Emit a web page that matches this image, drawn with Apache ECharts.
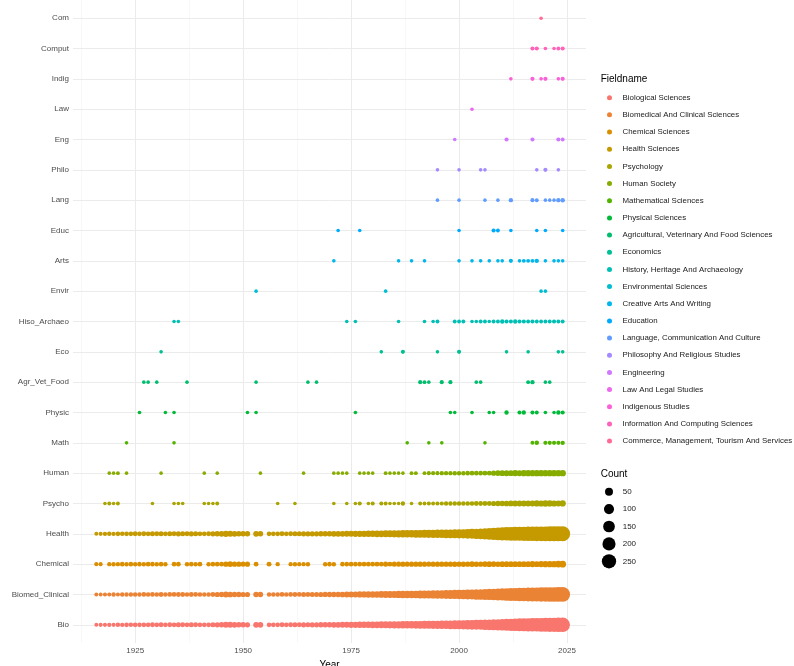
<!DOCTYPE html>
<html>
<head>
<meta charset="UTF-8">
<title>Field by year</title>
<script src="https://cdn.jsdelivr.net/npm/echarts@6.0.0/dist/echarts.min.js"></script>
<style>
  html, body { margin: 0; padding: 0; background: #fff; }
  #main { width: 794px; height: 666px; }
</style>
</head>
<body>
<div id="main"></div>
<script>
// y axis labels, bottom to top (same order as the legend)
const fields = ['Bio', 'Biomed_Clinical', 'Chemical', 'Health', 'Psycho', 'Human', 'Math', 'Physic',
  'Agr_Vet_Food', 'Eco', 'Hiso_Archaeo', 'Envir', 'Arts', 'Educ', 'Lang', 'Philo', 'Eng', 'Law',
  'Indig', 'Comput', 'Com'];
const fieldNames = ['Biological Sciences', 'Biomedical And Clinical Sciences', 'Chemical Sciences',
  'Health Sciences', 'Psychology', 'Human Society', 'Mathematical Sciences', 'Physical Sciences',
  'Agricultural, Veterinary And Food Sciences', 'Economics', 'History, Heritage And Archaeology',
  'Environmental Sciences', 'Creative Arts And Writing', 'Education',
  'Language, Communication And Culture', 'Philosophy And Religious Studies', 'Engineering',
  'Law And Legal Studies', 'Indigenous Studies', 'Information And Computing Sciences',
  'Commerce, Management, Tourism And Services'];
const xTicks = [1925, 1950, 1975, 2000, 2025];
const xMinor = [1912.5, 1937.5, 1962.5, 1987.5, 2012.5];
const countBreaks = [50, 100, 150, 200, 250];

// [year, count]
const bio = [[1916,2],[1917,3],[1918,3],[1919,4],[1920,3],[1921,5],[1922,4],[1923,6],[1924,5],[1925,7],
  [1926,6],[1927,7],[1928,6],[1929,8],[1930,7],[1931,8],[1932,6],[1933,8],[1934,7],[1935,9],[1936,8],
  [1937,7],[1938,9],[1939,8],[1940,6],[1941,6],[1942,7],[1943,9],[1944,11],[1945,14],[1946,20],[1947,17],
  [1948,15],[1949,13],[1950,12],[1951,11],[1953,16],[1954,15],
  [1956,6],[1957,7],[1958,6],[1959,8],[1960,7],[1961,8],[1962,9],[1963,8],[1964,10],[1965,9],[1966,11],
  [1967,10],[1968,12],[1969,13],[1970,14],[1971,15],[1972,16],[1973,18],[1974,19],[1975,21],
  [1976,22],[1977,24],[1978,25],[1979,27],[1980,28],[1981,30],[1982,32],[1983,33],[1984,35],[1985,36],
  [1986,38],[1987,40],[1988,41],[1989,43],[1990,45],[1991,47],[1992,49],[1993,52],[1994,54],[1995,57],
  [1996,60],[1997,63],[1998,66],[1999,70],[2000,74],
  [2001,78],[2002,83],[2003,88],[2004,94],[2005,100],[2006,108],[2007,116],[2008,125],[2009,135],
  [2010,146],[2011,158],[2012,170],[2013,182],[2014,192],[2015,200],[2016,208],[2017,215],[2018,222],
  [2019,230],[2020,238],[2021,245],[2022,252],[2023,258],[2024,262]];
const biomed = [[1916,2],[1917,2],[1918,3],[1919,3],[1920,4],[1921,3],[1922,5],[1923,4],[1924,5],[1925,6],
  [1926,5],[1927,7],[1928,6],[1929,7],[1930,6],[1931,8],[1932,6],[1933,7],[1934,7],[1935,8],[1936,8],
  [1937,6],[1938,8],[1939,7],[1940,6],[1941,5],[1942,6],[1943,8],[1944,10],[1945,12],[1946,18],[1947,15],
  [1948,13],[1949,12],[1950,10],[1951,10],[1953,14],[1954,13],
  [1956,5],[1957,6],[1958,6],[1959,7],[1960,6],[1961,7],[1962,8],[1963,7],[1964,9],[1965,8],[1966,9],
  [1967,9],[1968,10],[1969,11],[1970,12],[1971,13],[1972,14],[1973,15],[1974,17],[1975,18],
  [1976,19],[1977,21],[1978,22],[1979,24],[1980,25],[1981,27],[1982,28],[1983,30],[1984,32],[1985,34],
  [1986,36],[1987,38],[1988,40],[1989,42],[1990,44],[1991,47],[1992,50],[1993,53],[1994,56],[1995,60],
  [1996,64],[1997,68],[1998,72],[1999,77],[2000,82],
  [2001,88],[2002,94],[2003,100],[2004,108],[2005,116],[2006,125],[2007,135],[2008,145],[2009,156],
  [2010,168],[2011,180],[2012,192],[2013,203],[2014,213],[2015,222],[2016,230],[2017,238],[2018,245],
  [2019,252],[2020,258],[2021,263],[2022,267],[2023,270],[2024,272]];
const chemical = [[1916,3],[1917,3],[1919,4],[1920,5],[1921,4],[1922,6],[1923,5],[1924,6],[1925,5],
  [1926,6],[1927,5],[1928,7],[1929,6],[1930,5],[1931,6],[1932,5],[1934,6],[1935,7],[1937,5],[1938,6],
  [1939,5],[1940,6],[1942,5],[1943,6],[1944,7],[1945,8],[1946,12],[1947,14],[1948,11],[1949,10],[1950,9],
  [1951,10],[1953,7],[1956,8],[1958,4],[1961,4],[1962,5],[1963,4],[1964,4],[1965,5],[1969,5],[1970,6],
  [1971,5],
  [1973,6],[1974,6],[1975,7],[1976,6],[1977,7],[1978,7],[1979,8],[1980,7],[1981,8],[1982,8],
  [1983,9],[1984,8],[1985,9],[1986,9],[1987,10],[1988,9],[1989,10],[1990,10],[1991,11],[1992,10],
  [1993,9],[1994,10],[1995,11],[1996,12],[1997,11],[1998,12],[1999,13],[2000,12],[2001,13],[2002,12],
  [2003,14],[2004,13],[2005,12],[2006,14],[2007,15],[2008,14],[2009,13],[2010,15],[2011,16],[2012,15],
  [2013,17],[2014,16],[2015,18],[2016,17],[2017,19],[2018,18],[2019,20],[2020,21],[2021,22],[2022,24],
  [2023,26],[2024,28]];
const health = [[1916,2],[1917,3],[1918,4],[1919,5],[1920,4],[1921,6],[1922,5],[1923,7],[1924,6],[1925,8],
  [1926,7],[1927,8],[1928,7],[1929,9],[1930,8],[1931,9],[1932,7],[1933,9],[1934,8],[1935,10],[1936,9],
  [1937,8],[1938,10],[1939,9],[1940,7],[1941,7],[1942,8],[1943,10],[1944,12],[1945,15],[1946,22],[1947,18],
  [1948,16],[1949,14],[1950,13],[1951,12],[1953,16],[1954,14],
  [1956,6],[1957,7],[1958,7],[1959,8],[1960,7],[1961,8],[1962,9],[1963,9],[1964,10],[1965,10],[1966,11],
  [1967,11],[1968,12],[1969,13],[1970,14],[1971,15],[1972,16],[1973,17],[1974,19],[1975,20],
  [1976,21],[1977,22],[1978,23],[1979,25],[1980,26],[1981,28],[1982,29],[1983,31],[1984,33],[1985,35],
  [1986,37],[1987,39],[1988,41],[1989,43],[1990,45],[1991,47],[1992,50],[1993,53],[1994,56],[1995,59],
  [1996,62],[1997,65],[1998,68],[1999,71],[2000,75],
  [2001,80],[2002,88],[2003,96],[2004,106],[2005,118],[2006,132],[2007,150],[2008,170],[2009,190],
  [2010,205],[2011,218],[2012,228],[2013,236],[2014,243],[2015,250],[2016,256],[2017,261],[2018,266],
  [2019,270],[2020,274],[2021,277],[2022,279],[2023,280],[2024,281]];
const psycho = [[1918,1],[1919,2],[1920,1],[1921,2],[1929,1],[1934,1],[1935,1],[1936,1],[1941,1],[1942,1],
  [1943,1],[1944,2],[1958,1],[1962,1],[1971,1],[1974,1],[1976,1],[1977,3],[1979,1],[1980,3],[1982,3],
  [1983,2],[1984,1],[1985,1],[1986,1],[1987,4],[1989,1],
  [1991,2],[1992,2],[1993,3],[1994,2],[1995,3],[1996,3],[1997,4],[1998,4],[1999,5],[2000,5],
  [2001,5],[2002,6],[2003,6],[2004,7],[2005,7],[2006,8],[2007,8],[2008,10],[2009,12],[2010,14],
  [2011,15],[2012,16],[2013,18],[2014,17],[2015,19],[2016,18],[2017,20],[2018,22],[2019,21],[2020,23],
  [2021,22],[2022,21],[2023,20],[2024,22]];
const human = [[1919,1],[1920,1],[1921,2],[1923,1],[1931,1],[1941,1],[1944,1],[1954,1],[1964,1],[1971,1],
  [1972,1],[1973,1],[1974,1],[1977,1],[1978,1],[1979,1],[1980,1],[1983,2],[1984,1],[1985,1],[1986,1],
  [1987,1],[1989,2],[1990,2],
  [1992,2],[1993,3],[1994,3],[1995,3],[1996,4],[1997,4],[1998,4],[1999,5],[2000,5],[2001,5],
  [2002,6],[2003,6],[2004,7],[2005,7],[2006,8],[2007,8],[2008,10],[2009,14],[2010,16],[2011,18],
  [2012,17],[2013,20],[2014,19],[2015,21],[2016,22],[2017,21],[2018,24],[2019,23],[2020,22],[2021,24],
  [2022,23],[2023,22],[2024,24]];
const math = [[1923,1],[1934,1],[1988,1],[1993,1],[1996,1],[2006,1],[2017,2],[2018,5],[2020,3],[2021,3],
  [2022,3],[2023,3],[2024,4]];
const physic = [[1926,1],[1932,1],[1934,1],[1951,1],[1953,1],[1976,1],[1998,1],[1999,1],[2003,1],[2007,1],
  [2008,1],[2011,4],[2014,3],[2015,4],[2017,3],[2018,2],[2020,1],[2022,1],[2023,4],[2024,3]];
const agr = [[1927,1],[1928,1],[1930,1],[1937,1],[1953,1],[1965,1],[1967,1],[1991,3],[1992,2],[1993,1],
  [1996,3],[1998,3],[2004,1],[2005,1],[2016,2],[2017,4],[2020,1],[2021,1]];
const eco = [[1931,1],[1982,1],[1987,3],[1995,1],[2000,3],[2011,1],[2016,1],[2023,1],[2024,1]];
const hiso = [[1934,1],[1935,1],[1974,1],[1976,1],[1986,1],[1992,1],[1994,1],[1995,2],[1999,2],[2000,2],
  [2001,2],[2003,1],[2004,1],[2005,2],[2006,2],[2007,1],[2008,2],[2009,2],[2010,4],[2011,3],[2012,3],
  [2013,4],[2014,3],[2015,3],[2016,2],[2017,3],[2018,2],[2019,2],[2020,2],[2021,2],[2022,3],[2023,2],
  [2024,2]];
const envir = [[1953,1],[1983,1],[2019,1],[2020,1]];
const arts = [[1971,1],[1986,1],[1989,1],[1992,1],[2000,1],[2003,1],[2005,1],[2007,1],[2009,1],[2010,1],
  [2012,3],[2014,1],[2015,2],[2016,2],[2017,2],[2018,4],[2020,1],[2022,1],[2023,1],[2024,1]];
const educ = [[1972,1],[1977,1],[2000,1],[2008,3],[2009,2],[2012,1],[2018,1],[2020,1],[2024,1]];
const lang = [[1995,1],[2000,1],[2006,1],[2009,1],[2012,4],[2017,3],[2018,2],[2020,1],[2021,1],[2022,1],
  [2023,4],[2024,5]];
const philo = [[1995,1],[2000,1],[2005,1],[2006,1],[2018,1],[2020,3],[2023,1]];
const eng = [[1999,1],[2011,3],[2017,3],[2023,3],[2024,2]];
const law = [[2003,1]];
const indig = [[2012,1],[2017,3],[2019,1],[2020,3],[2023,1],[2024,3]];
const comput = [[2017,3],[2018,3],[2020,1],[2022,1],[2023,2],[2024,3]];
const com = [[2019,1]];

const rows = [bio, biomed, chemical, health, psycho, human, math, physic, agr, eco, hiso, envir,
  arts, educ, lang, philo, eng, law, indig, comput, com];

const FONT = '"Liberation Sans", Arial, sans-serif';

// ggplot2 default hue palette: hcl(h, c = 100, l = 65)
function hcl(h, c, l) {
  const hr = h * Math.PI / 180;
  const U = c * Math.cos(hr), V = c * Math.sin(hr);
  const Y = l > 8 ? Math.pow((l + 16) / 116, 3) : l / 903.3;
  const un = 0.1978398, vn = 0.4683363;
  const u = U / (13 * l) + un, v = V / (13 * l) + vn;
  const X = 9 * Y * u / (4 * v);
  const Z = Y * (12 - 3 * u - 20 * v) / (4 * v);
  const lin = [
    3.240479 * X - 1.537150 * Y - 0.498535 * Z,
    -0.969256 * X + 1.875992 * Y + 0.041556 * Z,
    0.055648 * X - 0.204043 * Y + 1.057311 * Z
  ];
  return '#' + lin.map(t => {
    t = t <= 0.0031308 ? 12.92 * t : 1.055 * Math.pow(t, 1 / 2.4) - 0.055;
    t = Math.max(0, Math.min(1, t));
    return Math.round(t * 255).toString(16).padStart(2, '0');
  }).join('');
}
const colors = fieldNames.map((n, i) => hcl(15 + i * 360 / fieldNames.length, 100, 65));

// point diameter from count (area scale)
const sizeOf = c => 2.9 + 0.72 * Math.sqrt(c);

const myChart = echarts.init(document.getElementById('main'));

const series = fieldNames.map((name, i) => ({
  name: name,
  type: 'scatter',
  data: rows[i].map(p => [p[0], i, p[1]]),
  symbolSize: v => sizeOf(v[2]),
  itemStyle: { color: colors[i], opacity: 1 },
  emphasis: { disabled: true },
  animation: false,
  z: 3
}));

// grid lines (theme_minimal look)
series.push({
  name: 'gridlines',
  type: 'scatter',
  data: [],
  silent: true,
  animation: false,
  markLine: {
    silent: true,
    animation: false,
    symbol: ['none', 'none'],
    label: { show: false },
    z: 1,
    lineStyle: { type: 'solid', color: '#ebebeb', width: 1 },
    data: [].concat(
      xMinor.map(v => ({ xAxis: v, lineStyle: { color: '#f3f3f3', width: 0.6 } })),
      xTicks.map(v => ({ xAxis: v })),
      fields.map((f, i) => ({ yAxis: i }))
    )
  }
});

const option = {
  backgroundColor: '#ffffff',
  textStyle: { fontFamily: FONT },
  grid: { left: 73, right: 208, top: 0, bottom: 23, outerBoundsMode: 'none' },
  xAxis: {
    type: 'value',
    min: 1910.6,
    max: 2029.4,
    name: 'Year',
    nameLocation: 'middle',
    nameGap: 12,
    nameTextStyle: { fontSize: 10, color: '#000', fontFamily: FONT },
    axisLine: { show: false },
    axisTick: { show: false },
    splitLine: { show: false },
    axisLabel: {
      customValues: xTicks,
      fontSize: 8, color: '#4d4d4d', margin: 4, fontFamily: FONT,
      formatter: v => String(Math.round(v))
    }
  },
  yAxis: {
    type: 'value',
    min: -0.6,
    max: 20.6,
    name: 'Field',
    nameLocation: 'middle',
    nameRotate: 90,
    nameGap: 62,
    nameTextStyle: { fontSize: 10, color: '#000', fontFamily: FONT },
    axisLine: { show: false },
    axisTick: { show: false },
    splitLine: { show: false },
    axisLabel: {
      customValues: fields.map((f, i) => i),
      fontSize: 8, color: '#4d4d4d', margin: 4, fontFamily: FONT,
      formatter: v => fields[Math.round(v)]
    }
  },
  legend: {
    orient: 'vertical',
    left: 607,
    top: 91.7,
    padding: 0,
    itemWidth: 16,
    itemHeight: 5,
    itemGap: 5.17,
    icon: 'circle',
    selectedMode: false,
    textStyle: { fontSize: 7.9, color: '#1a1a1a', lineHeight: 12, fontFamily: FONT },
    data: fieldNames
  },
  graphic: [].concat(
    [
      { type: 'text', x: 600.7, y: 79.3, style: { text: 'Fieldname', fill: '#000', font: '10px ' + FONT, verticalAlign: 'middle' } },
      { type: 'text', x: 600.7, y: 474, style: { text: 'Count', fill: '#000', font: '10px ' + FONT, verticalAlign: 'middle' } }
    ],
    countBreaks.map((c, k) => ({
      type: 'circle', shape: { cx: 609, cy: 491.7 + k * 17.4, r: sizeOf(c) / 2 }, style: { fill: '#000' }
    })),
    countBreaks.map((c, k) => ({
      type: 'text', x: 622.7, y: 491.7 + k * 17.4,
      style: { text: String(c), fill: '#1a1a1a', font: '8px ' + FONT, verticalAlign: 'middle' }
    }))
  ),
  series: series
};

myChart.setOption(option);
</script>
</body>
</html>
